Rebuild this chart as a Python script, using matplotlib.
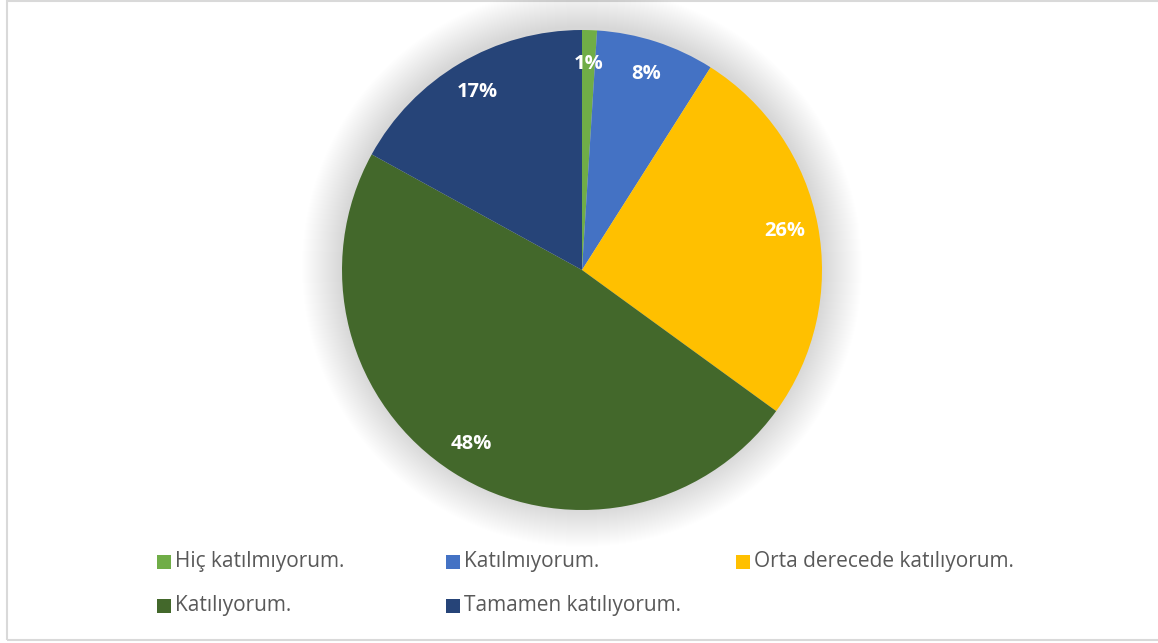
import matplotlib.pyplot as plt
from matplotlib.patches import Circle, Rectangle

categories = ["Hiç katılmıyorum.", "Katılmıyorum.", "Orta derecede katılıyorum.",
              "Katılıyorum.", "Tamamen katılıyorum."]
values = [1, 8, 26, 48, 17]
colors = ["#70AD47", "#4472C4", "#FFC000", "#43682B", "#264478"]

W, H = 1158, 643
CX, CY, R = 582, H - 270, 240

plt.rcParams['font.family'] = ['Open Sans', 'DejaVu Sans']

fig = plt.figure(figsize=(W / 100, H / 100), dpi=100)
ax = fig.add_axes([0, 0, 1, 1])

# outer border of the chart area
ax.add_patch(Rectangle((7, 3), W, H - 4, fill=False, edgecolor="#D9D9D9", linewidth=1.5))

# soft glow/shadow around the pie
for k in range(40, 0, -1):
    ax.add_patch(Circle((CX, CY + 3), R + k, facecolor="#000000", alpha=0.0035, edgecolor='none'))

wedges, texts, autotexts = ax.pie(
    values, colors=colors, startangle=90, counterclock=False,
    center=(CX, CY), radius=R, autopct='%1.0f%%', pctdistance=0.86,
    wedgeprops=dict(linewidth=0), frame=True,
    textprops=dict(color="white", fontsize=14.5, fontweight="bold"))
ax.set_xlim(0, W)
ax.set_ylim(0, H)
ax.set_aspect('equal')
ax.axis('off')

# legend laid out like the original (3 columns, 2 rows)
col_x = [164, 453, 743]
row_y = [H - 562, H - 606]
for i, (name, c) in enumerate(zip(categories, colors)):
    x = col_x[i % 3]
    y = row_y[i // 3]
    ax.add_patch(Rectangle((x - 7, y - 7), 14, 14, facecolor=c, edgecolor='none'))
    ax.text(x + 11, y + 1, name, fontsize=15, color="#595959", va='center', ha='left')

fig.savefig("out.png", dpi=100)
